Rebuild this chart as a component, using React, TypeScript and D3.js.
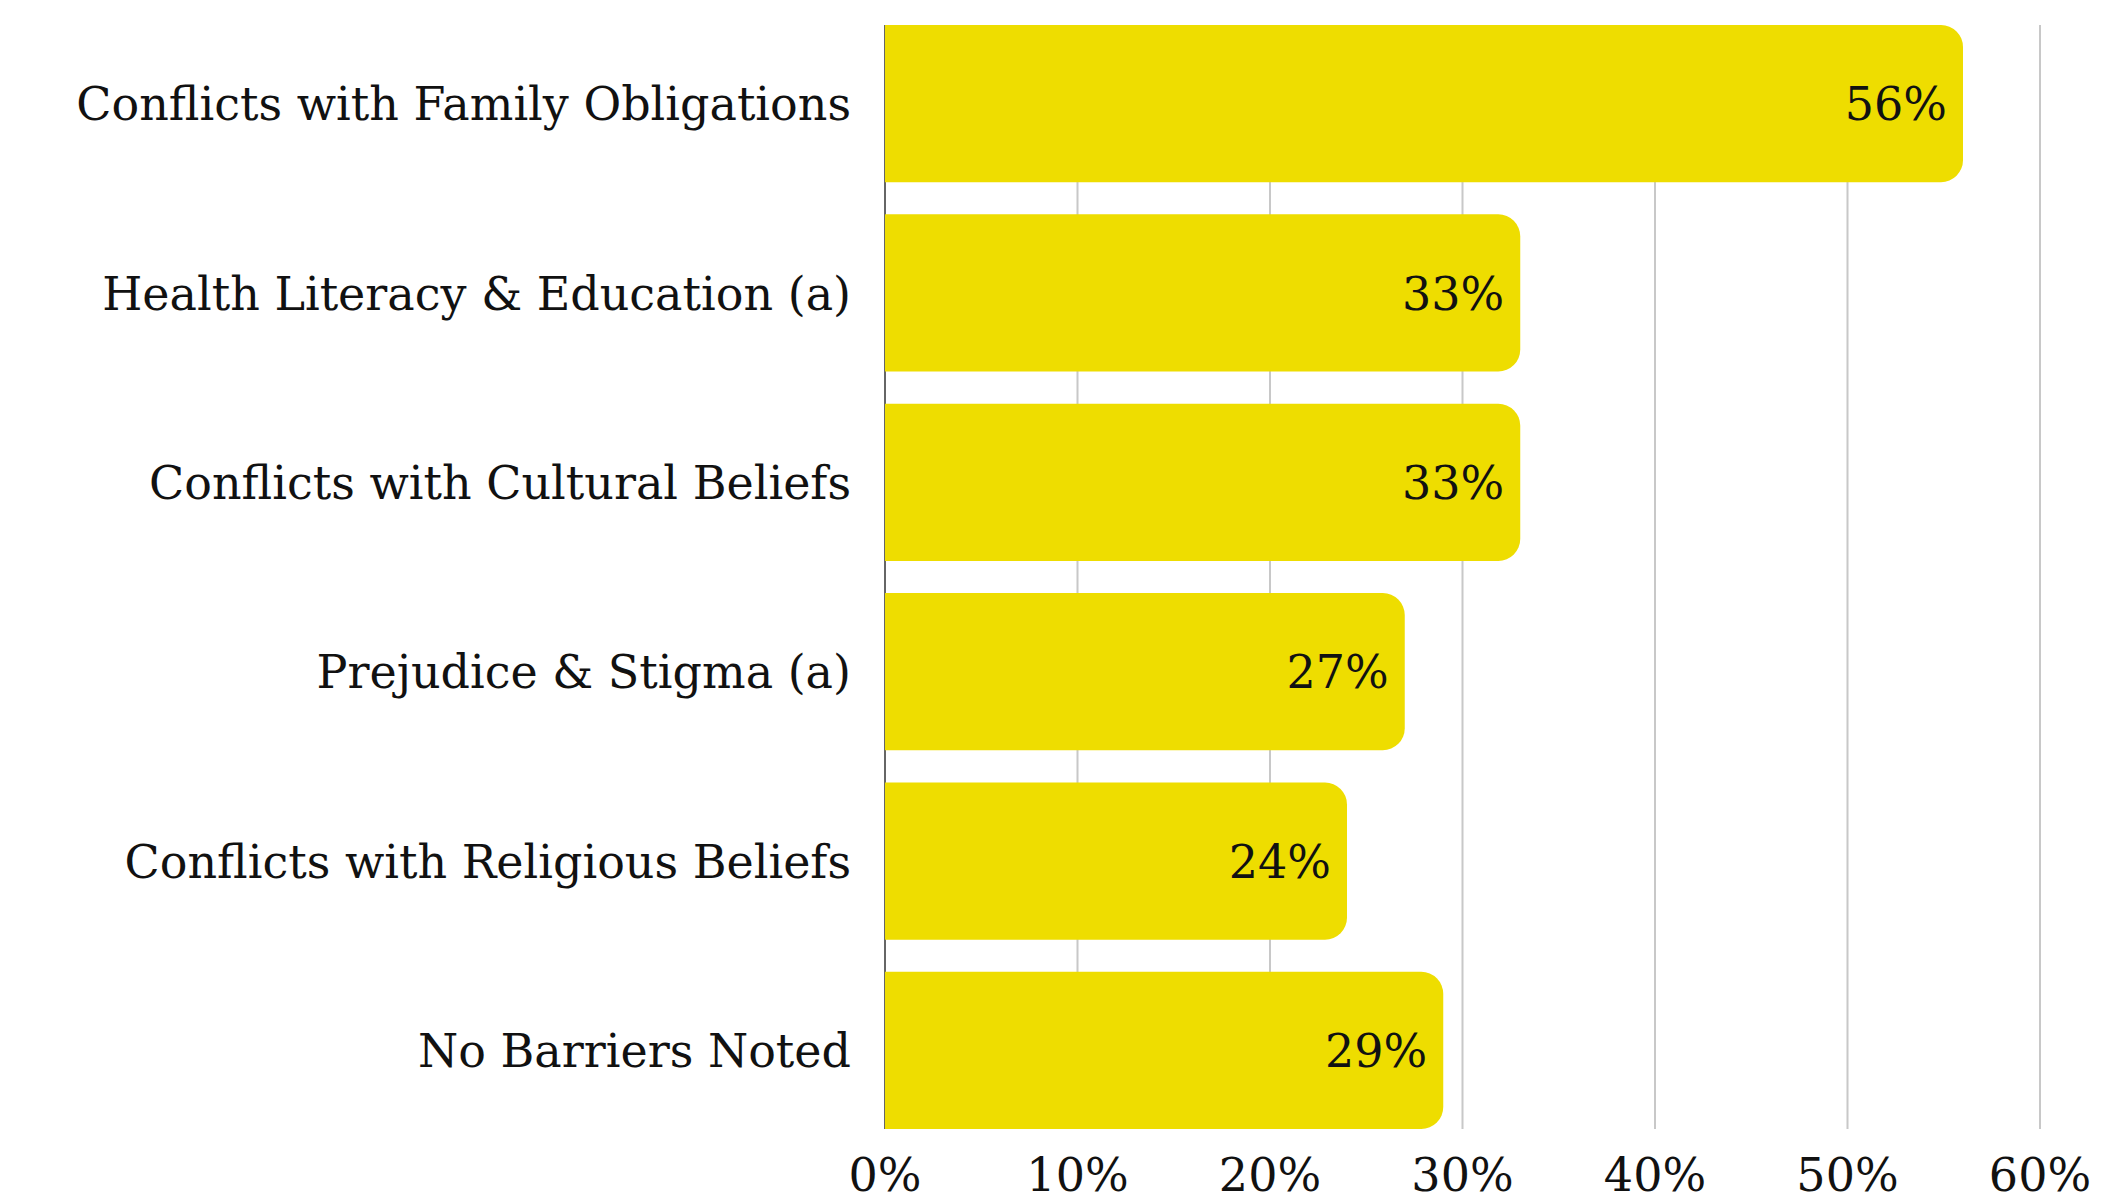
import { useEffect } from "react";
import * as d3 from "d3";

const WIDTH = 2104;
const HEIGHT = 1204;
const MARGIN = { top: 25, right: 64, bottom: 75, left: 885 };
const BAR_PADDING = 0.17;
const RADIUS = 22;
const FONT = "'DejaVu Serif', serif";
const FONT_SIZE = 46;

const categories = [
  "Conflicts with Family Obligations",
  "Health Literacy & Education (a)",
  "Conflicts with Cultural Beliefs",
  "Prejudice & Stigma (a)",
  "Conflicts with Religious Beliefs",
  "No Barriers Noted",
];
const values = [56, 33, 33, 27, 24, 29];
const ticks = [0, 10, 20, 30, 40, 50, 60];

// bar with square left side and rounded right corners
const barPath = (x0: number, y0: number, w: number, h: number, r: number) => {
  const rr = Math.min(r, w, h / 2);
  return `M${x0},${y0}H${x0 + w - rr}A${rr},${rr} 0 0 1 ${x0 + w},${y0 + rr}V${y0 + h - rr}A${rr},${rr} 0 0 1 ${x0 + w - rr},${y0 + h}H${x0}Z`;
};

export default function App() {
  useEffect(() => {
    document.body.style.margin = "0";
  }, []);

  const boundsWidth = WIDTH - MARGIN.left - MARGIN.right;
  const boundsHeight = HEIGHT - MARGIN.top - MARGIN.bottom;

  const xScale = d3.scaleLinear().domain([0, 60]).range([0, 2040 - MARGIN.left]);
  const yScale = d3
    .scaleBand()
    .domain(categories)
    .range([0, boundsHeight])
    .paddingInner(BAR_PADDING)
    .paddingOuter(0);

  return (
    <svg
      width={WIDTH}
      height={HEIGHT}
      style={{ display: "block", background: "#fff" }}
      fontFamily={FONT}
      fontSize={FONT_SIZE}
    >
      <g transform={`translate(${MARGIN.left},${MARGIN.top})`}>
        {/* grid */}
        {ticks.slice(1).map((t) => (
          <line
            key={t}
            x1={xScale(t)}
            x2={xScale(t)}
            y1={0}
            y2={boundsHeight}
            stroke="#c8c8c8"
            strokeWidth={2}
          />
        ))}
        {/* y axis line */}
        <line x1={0} x2={0} y1={0} y2={boundsHeight} stroke="#666" strokeWidth={2} />

        {/* bars */}
        {categories.map((c, i) => {
          const y = yScale(c)!;
          const bw = yScale.bandwidth();
          const w = xScale(values[i]);
          return (
            <g key={c}>
              <path d={barPath(0, y, w, bw, RADIUS)} fill="#eedd00" />
              <text x={w - 16} y={y + bw / 2} dy="0.36em" textAnchor="end" fill="#111">
                {values[i]}%
              </text>
              <text x={-34} y={y + bw / 2} dy="0.36em" textAnchor="end" fill="#111">
                {c}
              </text>
            </g>
          );
        })}

        {/* x axis ticks */}
        {ticks.map((t) => (
          <text key={t} x={xScale(t)} y={1191 - MARGIN.top} textAnchor="middle" fill="#111">
            {t}%
          </text>
        ))}
      </g>
    </svg>
  );
}
